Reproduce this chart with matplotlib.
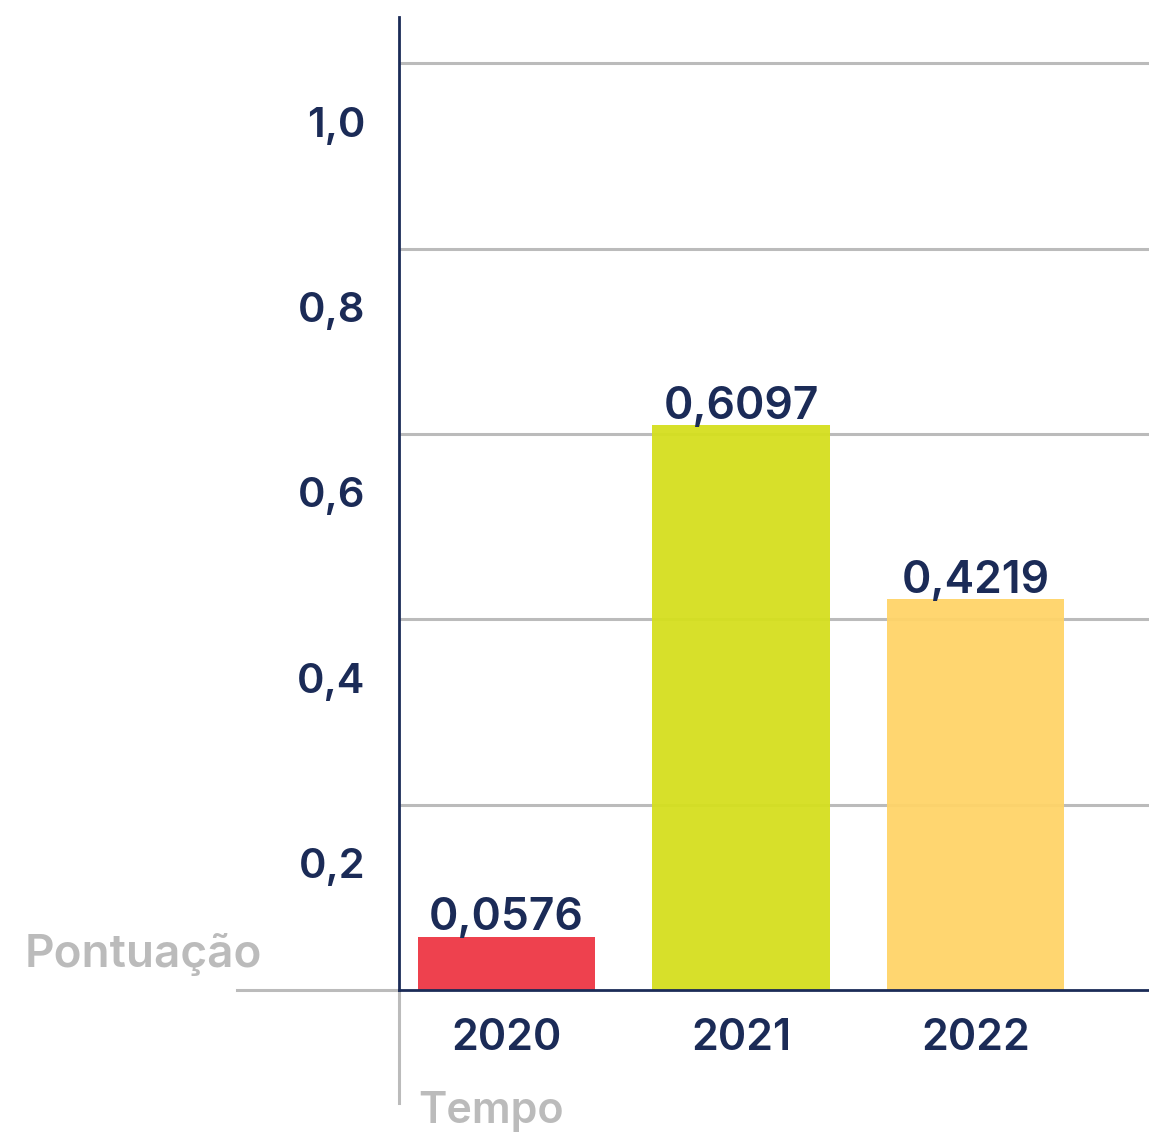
import matplotlib.pyplot as plt
from matplotlib.transforms import offset_copy

anos = ['2020', '2021', '2022']
pontuacao = [0.0576, 0.6097, 0.4219]
rotulos_valor = ['0,0576', '0,6097', '0,4219']
cores = ['#EE3744', '#D5DF1E', '#FFD468']
yticks = [0.2, 0.4, 0.6, 0.8, 1.0]
ytick_labels = ['0,2', '0,4', '0,6', '0,8', '1,0']

navy = '#1B2B57'
cinza = '#BBBBBB'

plt.rcParams['font.family'] = ['Inter', 'DejaVu Sans']
plt.rcParams['font.weight'] = 'medium'

fig = plt.figure(figsize=(11.49, 11.33), dpi=100)
ax = fig.add_axes([0.347, 0.1262, 0.653, 0.8588])

x = range(len(anos))
bars = ax.bar(x, pontuacao, width=0.756, color=cores, alpha=0.95, zorder=2)

for b, txt in zip(bars, rotulos_valor):
    ax.annotate(txt, (b.get_x() + b.get_width() / 2, b.get_height()),
                xytext=(0, -2), textcoords='offset points',
                ha='center', va='bottom', fontsize=32, color=navy,
                fontweight='semibold', zorder=3)

ax.set_xlim(-0.46, 2.74)
ax.set_ylim(0, 1.05)

# grid lines at the ticks
for v in yticks:
    ax.axhline(v, color=cinza, lw=2.2, zorder=1)

ax.set_yticks(yticks)
ax.set_yticklabels(ytick_labels, fontsize=30, color=navy, fontweight='semibold')
ax.tick_params(axis='y', length=0, pad=24)
# labels sit a bit below their grid lines
for lab in ax.get_yticklabels():
    lab.set_transform(offset_copy(lab.get_transform(), fig=fig, y=-42, units='points'))

ax.set_xticks(list(x))
ax.set_xticklabels(anos, fontsize=31, color=navy, fontweight='semibold')
ax.tick_params(axis='x', length=0, pad=20)

for s in ['top', 'right']:
    ax.spines[s].set_visible(False)
ax.spines['left'].set_color(navy)
ax.spines['left'].set_linewidth(2)
ax.spines['bottom'].set_color(navy)
ax.spines['bottom'].set_linewidth(2)

# gray extensions of the axes
ax.plot([-0.46 - 161 / 234, -0.46], [0, 0], color=cinza, lw=2.2,
        clip_on=False, zorder=1)
ax.plot([-0.46, -0.46], [0, -113 / 927], color=cinza, lw=2.2,
        clip_on=False, zorder=1)

fig.text(25 / 1149, 1 - 955 / 1133, 'Pontuação', fontsize=33, color=cinza,
         ha='left', va='center', fontweight='semibold')
fig.text(418 / 1149, 1 - 1112 / 1133, 'Tempo', fontsize=31, color=cinza,
         ha='left', va='center', fontweight='semibold')

fig.savefig('out.png', dpi=100)
